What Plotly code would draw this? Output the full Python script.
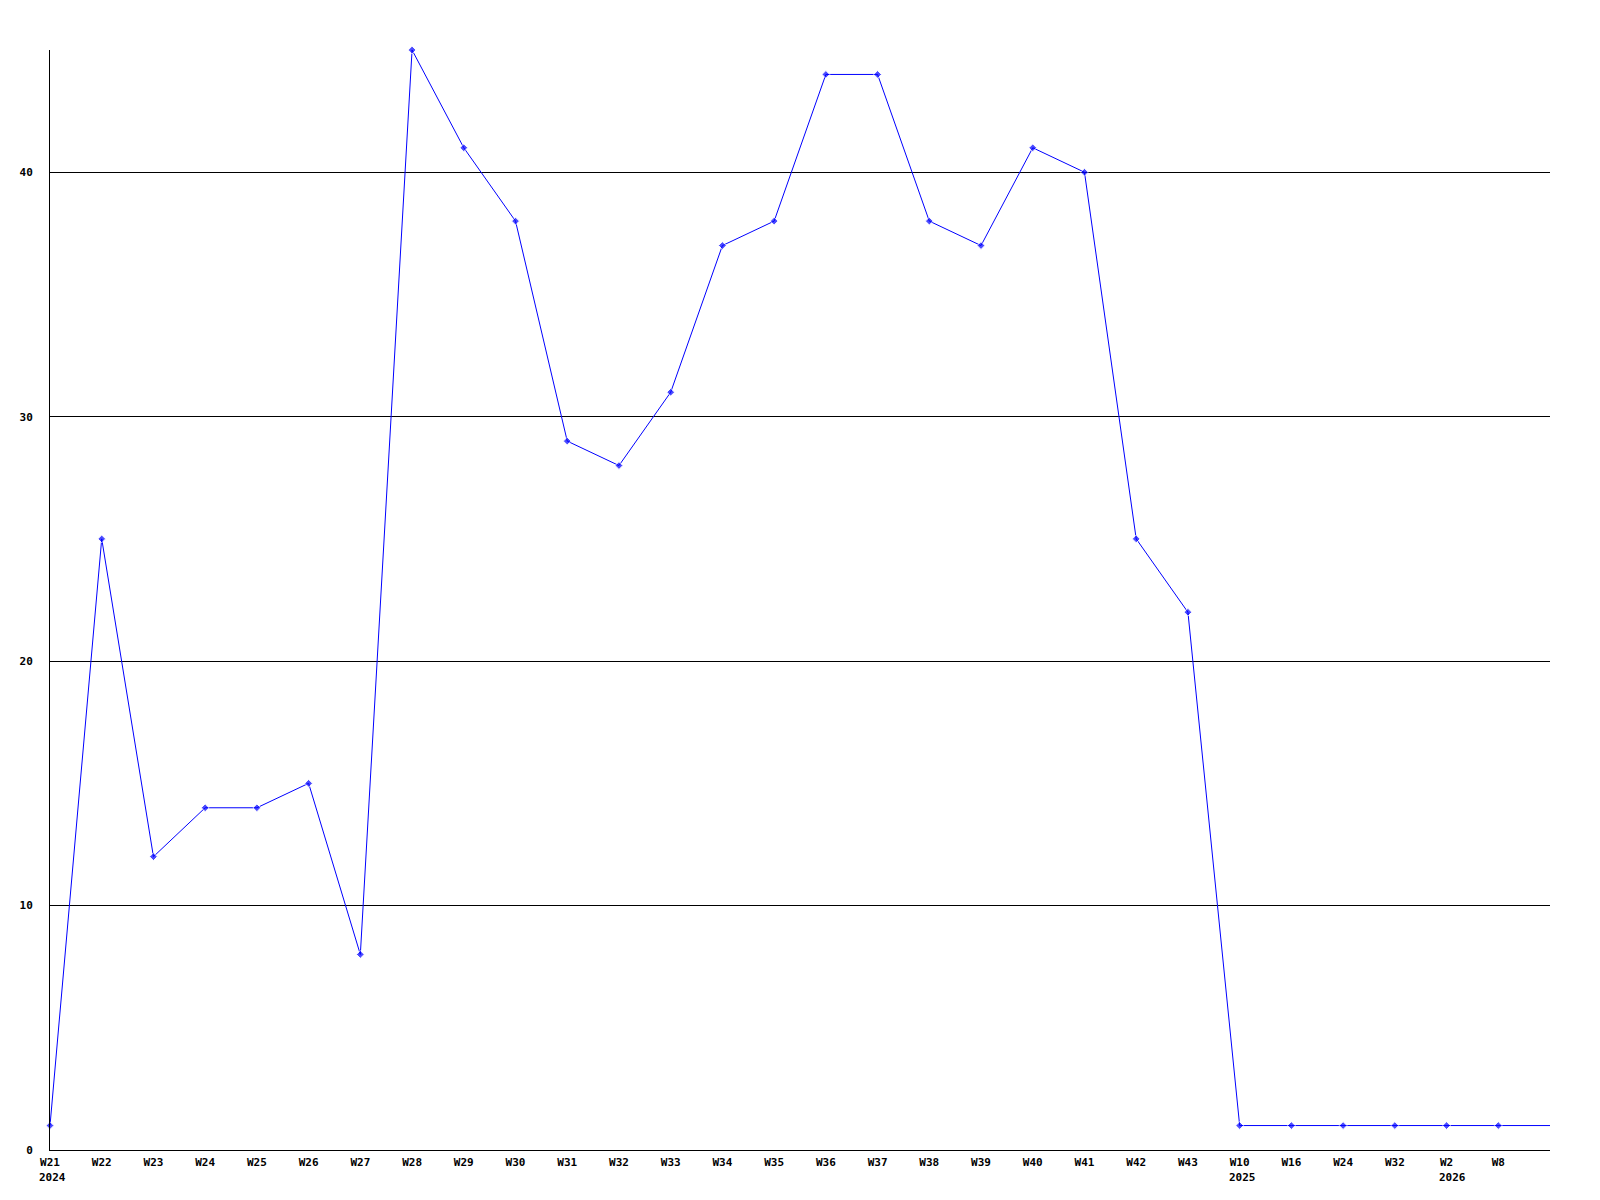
import plotly.graph_objects as go

weeks = ["W21", "W22", "W23", "W24", "W25", "W26", "W27", "W28", "W29", "W30",
         "W31", "W32", "W33", "W34", "W35", "W36", "W37", "W38", "W39", "W40",
         "W41", "W42", "W43", "W10", "W16", "W24", "W32", "W2", "W8", ""]
years = ["2024", "", "", "", "", "", "", "", "", "",
         "", "", "", "", "", "", "", "", "", "",
         "", "", "", "2025", "", "", "", "2026", "", ""]
values = [1, 25, 12, 14, 14, 15, 8, 45, 41, 38,
          29, 28, 31, 37, 38, 44, 44, 38, 37, 41,
          40, 25, 22, 1, 1, 1, 1, 1, 1, 1]
y_ticks = [0, 10, 20, 30, 40]

positions = list(range(len(values)))
marker_sizes = [6] * (len(values) - 1) + [0]

fig = go.Figure()
fig.add_trace(go.Scatter(
    x=positions, y=values, mode="lines+markers",
    line=dict(color="#0000ff", width=1),
    marker=dict(symbol="diamond", size=marker_sizes, color="#0000ff"),
    cliponaxis=False,
    hoverinfo="skip",
))

tfont = dict(family="DejaVu Sans Mono", size=11, color="black", weight="bold")

for i, (w, y) in enumerate(zip(weeks, years)):
    if y:
        fig.add_annotation(
            x=i, xref="x", y=0, yref="paper", text=y, showarrow=False,
            xanchor="left", yanchor="top", xshift=-len(w) * 6.6 / 2 - 3, yshift=-19,
            font=tfont,
        )

fig.update_layout(
    width=1600, height=1200,
    margin=dict(l=42, r=58, t=42, b=58),
    paper_bgcolor="white", plot_bgcolor="white",
    showlegend=False,
    font=dict(family="DejaVu Sans Mono", size=11, color="#000000"),
    xaxis=dict(
        range=[0, len(values) - 1],
        tickmode="array", tickvals=positions, ticktext=weeks,
        showgrid=False, zeroline=False,
        showline=True, linecolor="black", linewidth=1,
        ticks="outside", ticklen=2, tickcolor="white",
        tickfont=tfont,
    ),
    yaxis=dict(
        range=[0, 45],
        tickmode="array", tickvals=y_ticks, ticktext=[str(v) for v in y_ticks],
        showgrid=True, gridcolor="black", gridwidth=1,
        zeroline=False,
        showline=True, linecolor="black", linewidth=1,
        ticks="outside", ticklen=14, tickcolor="white",
        tickfont=tfont,
    ),
)

fig.write_html("out.html")
